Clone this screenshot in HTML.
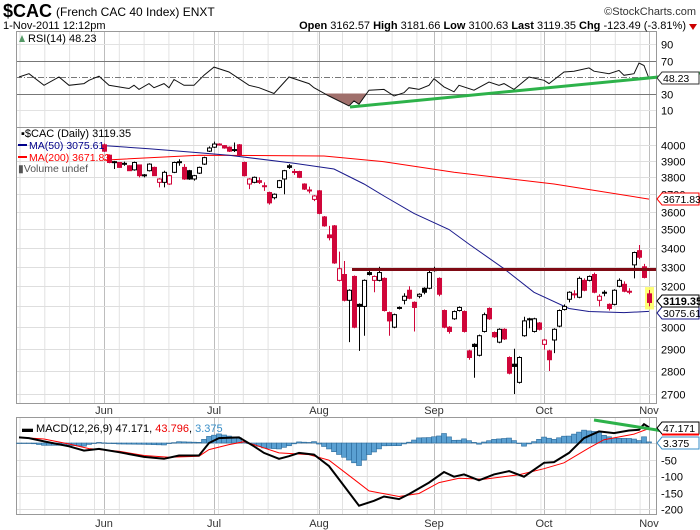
<!DOCTYPE html>
<html><head><meta charset="utf-8"><style>
body{margin:0;background:#fff;}
svg{display:block;font-family:"Liberation Sans",sans-serif;}
</style></head><body>
<svg id="c" width="700" height="530" viewBox="0 0 700 530">
<g id="grid"></g>
<g id="marks"></g>
<g id="overlay"></g>
<text x="3" y="17" font-size="18" font-weight="bold">$CAC</text>
<text x="56" y="16" font-size="12">(French CAC 40 Index)  ENXT</text>
<text x="696" y="15" font-size="11" text-anchor="end" fill="#333">©StockCharts.com</text>
<text x="3" y="29" font-size="11">1-Nov-2011 12:12pm</text>
<text x="686" y="29" font-size="11" text-anchor="end"><tspan font-weight="bold">Open</tspan> 3162.57 <tspan font-weight="bold">High</tspan> 3181.66 <tspan font-weight="bold">Low</tspan> 3100.63 <tspan font-weight="bold">Last</tspan> 3119.35 <tspan font-weight="bold">Chg</tspan> -123.49 (-3.81%)</text>
<path d="M689 24 L697 24 L693 30 Z" fill="#c00"/>
<text x="28" y="42" font-size="11">RSI(14) 48.23</text>
<path d="M19 42 L22 35 L25 42 Z" fill="#596"/>
<text x="21" y="137" font-size="11">▪$CAC (Daily) 3119.35</text>
<line x1="18" y1="145" x2="27" y2="145" stroke="#00008b" stroke-width="2"/>
<text x="29" y="149" font-size="10.5" fill="#00008b">MA(50) 3075.61</text>
<line x1="18" y1="157" x2="27" y2="157" stroke="#f00" stroke-width="2"/>
<text x="29" y="161" font-size="10.5" fill="#f00">MA(200) 3671.83</text>
<text x="18" y="172" font-size="10.5" fill="#555">▮Volume undef</text>
<text x="22" y="432" font-size="11">▬ MACD(12,26,9) 47.171, <tspan fill="#e00">43.796</tspan>, <tspan fill="#3a8fc8">3.375</tspan></text>
</svg>
<script>
// ---- data ----
const O=[4000,3935,3890,3890,3880,3870,3845,3875,3815,3840,3860,3770,3770,3760,3830,3895,3860,3840,3790,3825,3880,3960,3985,4005,3995,3985,3965,4000,3890,3760,3770,3780,3750,3710,3680,3740,3790,3870,3835,3835,3760,3725,3670,3720,3570,3470,3520,3230,3260,3130,3250,3110,3100,3270,3230,3230,3240,3070,3000,3095,3130,3180,3120,3150,3190,3190,3290,3240,3080,3000,3040,3080,3075,2890,2920,2870,2980,3090,2975,2930,2990,2860,2830,2750,2960,3040,2980,3020,2920,2890,2940,3005,3085,3135,3162,3145,3230,3230,3260,3130,3170,3110,3110,3200,3210,3175,3310,3385,3300,3162];
const H=[4008,3940,3900,3893,3895,3873,3895,3878,3820,3885,3865,3795,3840,3815,3895,3910,3880,3845,3815,3865,3925,3990,4020,4010,3998,3990,4015,4005,3895,3795,3805,3800,3770,3715,3705,3785,3845,3880,3850,3840,3765,3745,3695,3725,3575,3520,3525,3380,3330,3185,3255,3115,3235,3285,3255,3300,3245,3075,3065,3100,3165,3200,3125,3165,3195,3280,3300,3245,3085,3005,3080,3100,3080,2895,2925,2965,3070,3095,2980,2995,2995,2865,2900,2865,3050,3045,3045,3025,2945,2895,2995,3085,3110,3175,3180,3250,3240,3255,3270,3160,3180,3115,3185,3240,3225,3190,3380,3415,3315,3181];
const L=[3955,3885,3850,3858,3870,3838,3840,3800,3800,3835,3808,3740,3740,3755,3825,3870,3785,3785,3780,3820,3875,3955,3980,3995,3975,3955,3955,3930,3805,3730,3765,3760,3720,3640,3670,3735,3700,3850,3815,3795,3725,3705,3660,3585,3515,3440,3315,3225,3125,2930,2995,2890,2960,3255,3170,3225,3075,2960,2995,3085,3110,3135,2980,3140,3160,3185,3275,3150,2995,2970,3035,3075,2975,2850,2770,2865,2975,3035,2950,2925,2940,2785,2700,2745,2955,2995,2975,2985,2895,2800,2880,3000,3080,3120,3140,3140,3175,3225,3165,3100,3150,3080,3105,3195,3170,3160,3240,3340,3240,3100];
const C=[3960,3890,3895,3860,3885,3840,3890,3810,3810,3880,3810,3790,3830,3810,3890,3890,3790,3790,3810,3860,3920,3980,4005,4000,3980,3960,3970,3935,3810,3790,3800,3770,3745,3650,3700,3780,3840,3860,3830,3800,3730,3720,3690,3590,3520,3455,3320,3290,3130,3180,3000,3100,3230,3260,3250,3270,3080,3030,3060,3090,3150,3140,3095,3160,3170,3270,3280,3160,3000,2980,3075,3095,2980,2860,2910,2960,3060,3040,2955,2990,2945,2790,2820,2860,3030,3035,3040,2990,2940,2850,2990,3080,3100,3170,3160,3240,3180,3250,3170,3150,3165,3090,3180,3230,3175,3172,3375,3350,3245,3119.35];
const ma50Days=[0,9,19,25,38,46,52,56,62,69,73,80,86,93,97,104,109];
const ma50Vals=[3995,3975,3950,3935,3885,3850,3760,3690,3590,3500,3420,3290,3170,3090,3075,3070,3075.61];
const ma200Days=[0,19,44,56,70,90,109];
const ma200Vals=[3905,3935,3930,3895,3830,3760,3671.83];
const rsiDays=[-17,-15,-12,-9,-7,-4,-3,-1,1,5,6,7,9,10,12,13,14,16,18,20,22,25,29,31,34,37,41,42,45,49,50,51,53,56,58,60,61,63,65,66,68,70,71,74,77,79,80,82,85,88,89,92,94,97,98,101,103,104,106,107,108,109];
const rsiVals=[50,54,40,50,40,42,46,51,40,36,40,35,42,37,42,37,47,40,40,52,62,56,40,37,30,50,42,37,27,15,21,17,34,35,27,31,37,35,40,48,38,32,40,34,44,40,42,35,50,46,42,56,57,61,57,54,58,52,54,67,64,48.23];
const macdDays=[-17,-15,-12,-7,-4,-1,3,8,12,15,19,21,23,27,30,32,35,37,39,42,45,48,51,54,56,59,61,65,68,70,72,75,78,81,84,88,90,93,96,99,102,105,107,108,109];
const macdVals=[17,15,5,-10,-23,-18,-28,-42,-48,-38,-38,0,15,17,-10,-30,-48,-40,-30,-35,-70,-130,-190,-175,-162,-170,-155,-120,-88,-102,-95,-113,-95,-85,-102,-60,-58,-30,15,35,30,38,40,57,47.171];
const sigDays=[-17,-12,-7,-3,3,8,13,19,21,25,28,31,35,41,45,50,53,59,63,67,71,76,83,88,92,97,100,106,109];
const sigVals=[17,12,-3,-17,-25,-38,-43,-40,-20,-5,4,-10,-30,-35,-52,-110,-145,-162,-153,-120,-107,-110,-96,-78,-60,-15,10,27,43.796];
const priceTicks=[4000,3900,3800,3700,3600,3500,3400,3300,3200,3100,3000,2900,2800,2700];
const rsiTicks=[90,70,30,10];
const macdTicks=[-50,-100,-150,-200];
const months=['Jun','Jul','Aug','Sep','Oct','Nov'];
const monthDays=[0,22,43,66,88,109];

// ---- scales ----
const PL=16,PR=656;
const xOf=i=>104+5*i;
const yP=p=>394-634*Math.log(p/2700);
const yR=v=>77-(v-50)*0.825;
const yM=v=>443-v*0.33;
const NS='http://www.w3.org/2000/svg';
const G=document.getElementById('grid'),M=document.getElementById('marks'),OV=document.getElementById('overlay');
function mk(t,a,p){const e=document.createElementNS(NS,t);for(const k in a)e.setAttribute(k,a[k]);(p||M).appendChild(e);return e;}
function interp(ds,vs,d){if(d<=ds[0])return vs[0];for(let k=1;k<ds.length;k++){if(d<=ds[k]){const t=(d-ds[k-1])/(ds[k]-ds[k-1]);return vs[k-1]+t*(vs[k]-vs[k-1]);}}return vs[vs.length-1];}

const panels=[[31,127],[127,403],[417,514]];
panels.forEach((p,pi)=>{
  for(let x=94.5;x<PR;x+=24.8){const l=mk('line',{x1:x,y1:p[0],x2:x,y2:p[1],stroke:'#e2e2e2'},G);
    
    }
  for(let x=20;x<94;x+=24.8){const l=mk('line',{x1:x,y1:p[0],x2:x,y2:p[1],stroke:'#e2e2e2'},G);
    
    }
  monthDays.forEach(d=>{const l=mk('line',{x1:xOf(d)+0.5,y1:p[0],x2:xOf(d)+0.5,y2:p[1],stroke:'#bdbdbd'},G);
    
    });
});
priceTicks.forEach(t=>{const y=Math.round(yP(t))+0.5;
  const l=mk('line',{x1:PL,y1:y,x2:PR,y2:y,stroke:'#dedede'},G);
  
  
  const tx=mk('text',{x:661,y:y+4,'font-size':11},G);tx.textContent=t;
  
  });
rsiTicks.forEach(t=>{const y=Math.round(yR(t))+0.5;
  const st=(t==70||t==30)?'#777':'#e2e2e2';
  const l=mk('line',{x1:PL,y1:y,x2:PR,y2:y,stroke:st},G);
  
  
  const tx=mk('text',{x:661,y:y+4,'font-size':11},G);tx.textContent=t;
  
  });
{const y=Math.round(yR(50))+0.5;const l=mk('line',{x1:PL,y1:y,x2:PR,y2:y,stroke:'#777','stroke-dasharray':'6,2,1,2'},G);
 
 }
[0].concat(macdTicks).forEach(t=>{const y=Math.round(yM(t))+0.5;
  const l=mk('line',{x1:PL,y1:y,x2:PR,y2:y,stroke:'#dedede'},G);
  
  
  if(t!==0){const tx=mk('text',{x:661,y:y+4,'font-size':11},G);tx.textContent=t;
  
  }});
panels.forEach(p=>{const r=mk('rect',{x:PL+0.5,y:p[0]+0.5,width:PR-PL,height:p[1]-p[0],fill:'none',stroke:'#999'},G);
  
  });
[410,523].forEach(y=>months.forEach((m,i)=>{const tx=mk('text',{x:xOf(monthDays[i]),y:y+4,'font-size':11,'text-anchor':'middle',fill:'#333'},G);tx.textContent=m;
  
  }));

// RSI
{let d='';rsiDays.forEach((dd,k)=>{d+=(k?'L':'M')+xOf(dd)+' '+yR(rsiVals[k]).toFixed(1);});
 let f='';const a=43,b=53;
 for(let dd=a;dd<=b;dd+=0.25){const v=Math.min(30,interp(rsiDays,rsiVals,dd));f+=(f?'L':'M')+xOf(dd)+' '+yR(v).toFixed(1);}
 f+='Z';const fp=mk('path',{d:f,fill:'#a0706c'});
 
 
 const p=mk('path',{d:d,fill:'none',stroke:'#111','stroke-width':1});
 
 }

function line(ds,vs,ys,col,name,w){let d='';ds.forEach((dd,k)=>{d+=(k?'L':'M')+xOf(dd)+' '+ys(vs[k]).toFixed(1);});
 const p=mk('path',{d:d,fill:'none',stroke:col,'stroke-width':w||1});
 
 }
line(ma200Days,ma200Vals,yP,'#f00','ma200-line');
line(ma50Days,ma50Vals,yP,'#1a1a8c','ma50-line');

// last candle highlight
{const i=C.length-1;const r=mk('rect',{x:xOf(i)-4,y:yP(H[i])-3,width:9,height:yP(L[i])-yP(H[i])+6,fill:'#ffff55',opacity:0.8});
 
 }
// candles
for(let i=0;i<C.length;i++){
  const x=xOf(i);const up=C[i]>=O[i];const col=(i>0&&C[i]>=C[i-1])?'#000':'#d0063a';
  const w=mk('line',{x1:x+0.5,y1:yP(H[i]),x2:x+0.5,y2:yP(L[i]),stroke:col});
  
  
  const t=Math.min(yP(O[i]),yP(C[i]));let h=Math.abs(yP(O[i])-yP(C[i]));if(h<1)h=1;
  const r=mk('rect',{x:x-1.5,y:t,width:4,height:h,fill:up?'#fff':col,stroke:col});
  
  
}

// MACD histogram
for(let d=-17;d<=109;d++){const v=interp(macdDays,macdVals,d)-interp(sigDays,sigVals,d);
  const y0=yM(0),y1=yM(v);
  const r=mk('rect',{x:xOf(d)-2.5,y:Math.min(y0,y1),width:5,height:Math.max(0.5,Math.abs(y1-y0)),fill:'#5aa0d2',stroke:'#2b6a9a','stroke-width':0.6});
  
  }
line(sigDays,sigVals,yM,'#f00','macd-signal-line');
line(macdDays,macdVals,yM,'#000','macd-line',2);

function ov(t,a,name){const e=mk(t,a,OV);return e;}
ov('line',{x1:352,y1:269.5,x2:656,y2:269.5,stroke:'#7f0a14','stroke-width':3},'resistance-line');
ov('line',{x1:350,y1:107,x2:700,y2:73,stroke:'#2db24a','stroke-width':3},'rsi-trendline');
ov('line',{x1:594,y1:420,x2:682,y2:434,stroke:'#2db24a','stroke-width':3},'macd-trendline');
function box(y,txt,col,bold,name){ov('path',{d:`M657 ${y} L662 ${y-6} L699 ${y-6} L699 ${y+6} L662 ${y+6} Z`,fill:'#fff',stroke:col},name+'-box');
 const t=ov('text',{x:663,y:y+4,'font-size':bold?11:10.5,'font-weight':bold?'bold':'normal'},name);t.textContent=txt;}
box(Math.round(yP(3671.83)),'3671.83','#f00',false,'ma200-value-label');
box(Math.round(yP(3075.61))+2,'3075.61','#1a1a8c',false,'ma50-value-label');
box(Math.round(yP(3119.35))-1,'3119.35','#000',true,'last-price-label');
box(Math.round(yR(48.23)),'48.23','#333',false,'rsi-value-label');
box(428,'47.171','#000',false,'macd-value-label');
box(443,'3.375','#3a8fc8',false,'histogram-value-label');
ov('line',{x1:662,y1:434.5,x2:699,y2:434.5,stroke:'#f00','stroke-width':2},'signal-value-underline');
</script>
</body></html>
